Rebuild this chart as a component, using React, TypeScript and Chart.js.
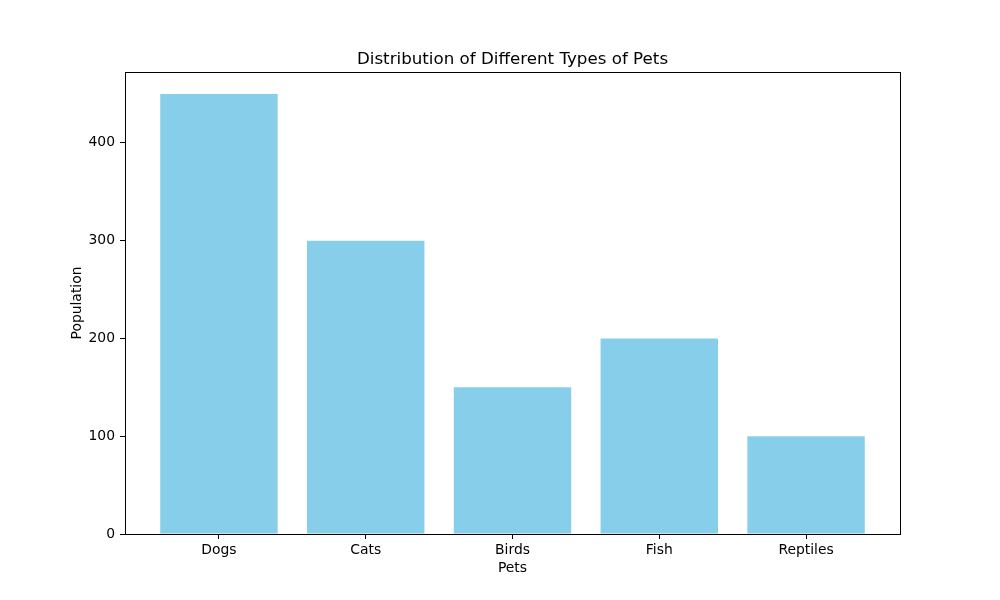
import React, { useEffect, useRef } from "react";
import { Chart, registerables } from "chart.js";

Chart.register(...registerables);

const categories = ["Dogs", "Cats", "Birds", "Fish", "Reptiles"];
const populations = [450, 300, 150, 200, 100];
const yTicks = [0, 100, 200, 300, 400];
const titleText = "Distribution of Different Types of Pets";
const xLabel = "Pets";
const yLabel = "Population";

const FONT = "'DejaVu Sans', sans-serif";

const framePlugin = {
  id: "frameAndTitle",
  afterDraw(chart: any) {
    const { ctx, chartArea } = chart;
    const { left, right, top, bottom } = chartArea;
    ctx.save();
    ctx.strokeStyle = "#000";
    ctx.lineWidth = 1;
    ctx.strokeRect(Math.round(left) + 0.5, Math.round(top) + 0.5, Math.round(right - left), Math.round(bottom - top));
    ctx.fillStyle = "#000";
    ctx.font = `16.7px ${FONT}`;
    ctx.textAlign = "center";
    ctx.textBaseline = "alphabetic";
    ctx.fillText(titleText, (left + right) / 2, top - 8);
    ctx.restore();
  },
};

export default function App() {
  const ref = useRef<HTMLCanvasElement | null>(null);
  useEffect(() => {
    if (!ref.current) return;
    const chart = new Chart(ref.current, {
      type: "bar",
      data: {
        datasets: [
          {
            data: categories.map((c, i) => ({ x: i, y: populations[i] })),
            backgroundColor: "#87CEEB",
            borderWidth: 0,
            categoryPercentage: 1,
            barPercentage: 0.8,
          },
        ],
      },
      plugins: [framePlugin],
      options: {
        animation: false,
        responsive: false,
        devicePixelRatio: 1,
        layout: { padding: { left: 0, right: 100, top: 72, bottom: 0 } },
        plugins: {
          legend: { display: false },
          title: { display: false },
          tooltip: { enabled: false },
        },
        scales: {
          x: {
            type: "linear",
            offset: false,
            min: -0.64,
            max: 4.64,
            afterFit: (s: any) => {
              s.height = 66;
            },
            afterBuildTicks: (s: any) => {
              s.ticks = categories.map((_, i) => ({ value: i }));
            },
            ticks: {
              includeBounds: false,
              stepSize: 1,
              autoSkip: false,
              maxRotation: 0,
              padding: 3,
              color: "#000",
              font: { family: FONT, size: 13.9 },
              callback: (v: any) => categories[v as number] ?? "",
            },
            grid: {
              offset: false,
              drawOnChartArea: false,
              drawTicks: true,
              tickLength: 5,
              tickColor: "#000",
            },
            border: { display: true, color: "#000" },
            title: {
              display: true,
              text: xLabel,
              color: "#000",
              font: { family: FONT, size: 13.9 },
              padding: { top: 0, bottom: 23 },
            },
          },
          y: {
            type: "linear",
            min: 0,
            max: 472.5,
            afterFit: (s: any) => {
              s.width = 125;
            },
            afterBuildTicks: (s: any) => {
              s.ticks = yTicks.map((v) => ({ value: v }));
            },
            ticks: {
              includeBounds: false,
              padding: 5,
              color: "#000",
              font: { family: FONT, size: 13.9 },
            },
            grid: {
              drawOnChartArea: false,
              drawTicks: true,
              tickLength: 5,
              tickColor: "#000",
            },
            border: { display: true, color: "#000" },
            title: {
              display: true,
              text: yLabel,
              color: "#000",
              font: { family: FONT, size: 13.9 },
              padding: { top: 69, bottom: 0 },
            },
          },
        },
      },
    });
    return () => chart.destroy();
  }, []);
  return (
    <div style={{ position: "fixed", left: 0, top: 0, width: 1000, height: 600, background: "#fff" }}>
      <canvas ref={ref} width={1000} height={600} style={{ width: 1000, height: 600 }} />
    </div>
  );
}
